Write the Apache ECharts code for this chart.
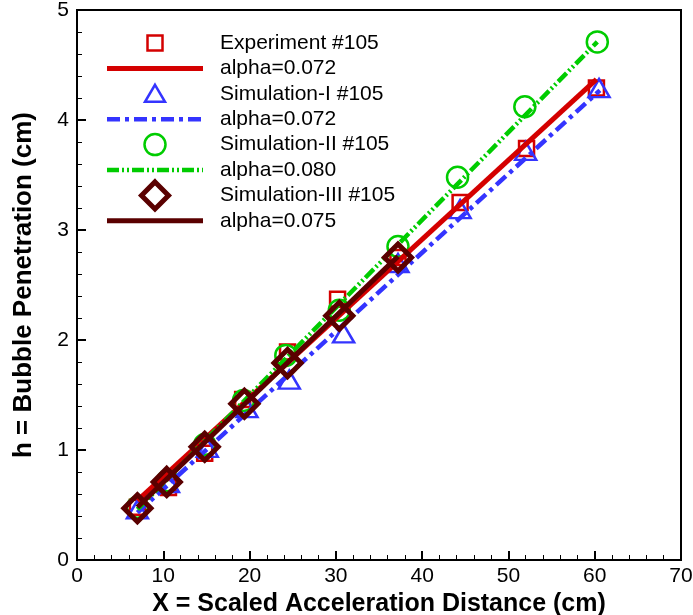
<!DOCTYPE html>
<html><head><meta charset="utf-8">
<script src="https://cdn.jsdelivr.net/npm/echarts@6/dist/echarts.min.js"></script>
<style>html,body{margin:0;padding:0;background:#fff}#c{width:693px;height:615px}</style>
</head><body><div id="c"></div>
<script>
// Experiment #105
var expX = [7.0, 10.6, 14.8, 19.2, 24.4, 30.2, 37.2, 44.4, 52.1, 60.2];
var expY = [0.48, 0.66, 0.97, 1.46, 1.89, 2.37, 2.75, 3.25, 3.74, 4.29];
// Simulation-I #105
var sim1X = [7.0, 10.6, 15.1, 19.7, 24.6, 30.9, 37.2, 44.4, 52.0, 60.5];
var sim1Y = [0.46, 0.70, 1.02, 1.38, 1.64, 2.06, 2.70, 3.19, 3.72, 4.29];
// Simulation-II #105
var sim2X = [7.0, 10.5, 14.8, 19.3, 24.2, 30.4, 37.2, 44.1, 51.9, 60.3];
var sim2Y = [0.48, 0.72, 1.05, 1.45, 1.86, 2.27, 2.85, 3.48, 4.12, 4.71];
// Simulation-III #105
var sim3X = [7.0, 10.4, 14.8, 19.4, 24.4, 30.4, 37.2];
var sim3Y = [0.47, 0.71, 1.03, 1.42, 1.79, 2.22, 2.75];
// fitted lines (end points)
var fitExpX = [7.0, 60.2], fitExpY = [0.54, 4.37];
var fitS1X = [7.0, 60.6], fitS1Y = [0.43, 4.27];
var fitS2X = [7.0, 60.3], fitS2Y = [0.46, 4.71];
var fitS3X = [7.0, 37.2], fitS3Y = [0.48, 2.76];
var xTicks = [0, 10, 20, 30, 40, 50, 60, 70];
var yTicks = [0, 1, 2, 3, 4, 5];
var legendNames = ['Experiment #105','alpha=0.072','Simulation-I #105','alpha=0.072','Simulation-II #105','alpha=0.080','Simulation-III #105','alpha=0.075'];

function pts(xs, ys){ return xs.map(function(x,i){return [x, ys[i]];}); }

var RED='#d40000', BLUE='#3434ff', GREEN='#00cc00', BROWN='#5a0000';
var DASH_BLUE=[13,5,4,5], DASH_GREEN=[12,3,2,3,2,3];
var font = '"Liberation Sans", Arial, sans-serif';
var chart = echarts.init(document.getElementById('c'));

// legend drawn as graphic elements (layout only)
var LX0=107, LX1=203, SX=155, TX=220, LY0=43, LDY=25.4;
var g = [];
function rowY(i){ return LY0 + i*LDY; }
g.push({type:'rect', shape:{x:SX-7.5, y:rowY(0)-7.5, width:15, height:15}, style:{fill:'none', stroke:RED, lineWidth:2.5}});
g.push({type:'line', shape:{x1:LX0,y1:rowY(1),x2:LX1,y2:rowY(1)}, style:{stroke:RED, lineWidth:5}});
g.push({type:'polygon', shape:{points:[[SX,rowY(2)-9],[SX+10,rowY(2)+8],[SX-10,rowY(2)+8]]}, style:{fill:'none', stroke:BLUE, lineWidth:2.5}});
g.push({type:'line', shape:{x1:LX0,y1:rowY(3),x2:LX1,y2:rowY(3)}, style:{stroke:BLUE, lineWidth:4.5, lineDash:DASH_BLUE}});
g.push({type:'circle', shape:{cx:SX, cy:rowY(4), r:10.5}, style:{fill:'none', stroke:GREEN, lineWidth:2.5}});
g.push({type:'line', shape:{x1:LX0,y1:rowY(5),x2:LX1,y2:rowY(5)}, style:{stroke:GREEN, lineWidth:4.5, lineDash:DASH_GREEN}});
g.push({type:'polygon', shape:{points:[[SX,rowY(6)-13.5],[SX+13.5,rowY(6)],[SX,rowY(6)+13.5],[SX-13.5,rowY(6)]]}, style:{fill:'none', stroke:BROWN, lineWidth:5}});
g.push({type:'line', shape:{x1:LX0,y1:rowY(7),x2:LX1,y2:rowY(7)}, style:{stroke:BROWN, lineWidth:5}});
legendNames.forEach(function(n,i){
  g.push({type:'text', x:TX, y:rowY(i), style:{text:n, fontFamily:font, fontSize:21, fill:'#000', verticalAlign:'middle'}});
});

chart.setOption({
  animation:false,
  grid:{left:77, right:12, top:10, bottom:55, show:true, borderColor:'#000', borderWidth:2, backgroundColor:'transparent', outerBoundsMode:'none', containLabel:false},
  xAxis:{type:'value', min:xTicks[0], max:xTicks[xTicks.length-1], interval:10,
    name:'X = Scaled Acceleration Distance (cm)', nameLocation:'middle', nameGap:28,
    nameTextStyle:{fontFamily:font, fontWeight:'bold', fontSize:25, color:'#000'},
    axisLine:{lineStyle:{color:'#000', width:2}},
    axisTick:{inside:true, length:9, lineStyle:{color:'#000', width:2}},
    minorTick:{show:true, splitNumber:5, length:5, lineStyle:{color:'#000', width:1}},
    axisLabel:{fontFamily:font, fontSize:21, color:'#000', margin:6, hideOverlap:false},
    splitLine:{show:false}},
  yAxis:{type:'value', min:yTicks[0], max:yTicks[yTicks.length-1], interval:1,
    name:'h = Bubble Penetration (cm)', nameLocation:'middle', nameGap:40,
    nameTextStyle:{fontFamily:font, fontWeight:'bold', fontSize:26, color:'#000'},
    axisLine:{lineStyle:{color:'#000', width:2}},
    axisTick:{inside:true, length:9, lineStyle:{color:'#000', width:2}},
    minorTick:{show:true, splitNumber:5, length:5, lineStyle:{color:'#000', width:1}},
    axisLabel:{fontFamily:font, fontSize:21, color:'#000', margin:8, hideOverlap:false},
    splitLine:{show:false}},
  graphic:g,
  series:[
    {name:legendNames[0], type:'scatter', z:2, symbol:'rect', symbolSize:15, data:pts(expX,expY),
      itemStyle:{color:'rgba(0,0,0,0)', borderColor:RED, borderWidth:2.5, opacity:1}},
    {name:legendNames[1], type:'line', z:3, symbol:'none', data:pts(fitExpX,fitExpY),
      lineStyle:{color:RED, width:5}},
    {name:legendNames[2], type:'scatter', z:2, symbol:'triangle', symbolSize:[21,18], data:pts(sim1X,sim1Y),
      itemStyle:{color:'rgba(0,0,0,0)', borderColor:BLUE, borderWidth:2.5, opacity:1}},
    {name:legendNames[3], type:'line', z:3, symbol:'none', data:pts(fitS1X,fitS1Y),
      lineStyle:{color:BLUE, width:4.5, type:DASH_BLUE}},
    {name:legendNames[4], type:'scatter', z:2, symbol:'circle', symbolSize:21, data:pts(sim2X,sim2Y),
      itemStyle:{color:'rgba(0,0,0,0)', borderColor:GREEN, borderWidth:2.5, opacity:1}},
    {name:legendNames[5], type:'line', z:3, symbol:'none', data:pts(fitS2X,fitS2Y),
      lineStyle:{color:GREEN, width:4.5, type:DASH_GREEN}},
    {name:legendNames[6], type:'scatter', z:5, symbol:'diamond', symbolSize:27, data:pts(sim3X,sim3Y),
      itemStyle:{color:'rgba(0,0,0,0)', borderColor:BROWN, borderWidth:5, opacity:1}},
    {name:legendNames[7], type:'line', z:4, symbol:'none', data:pts(fitS3X,fitS3Y),
      lineStyle:{color:BROWN, width:5}}
  ]
});
</script></body></html>
